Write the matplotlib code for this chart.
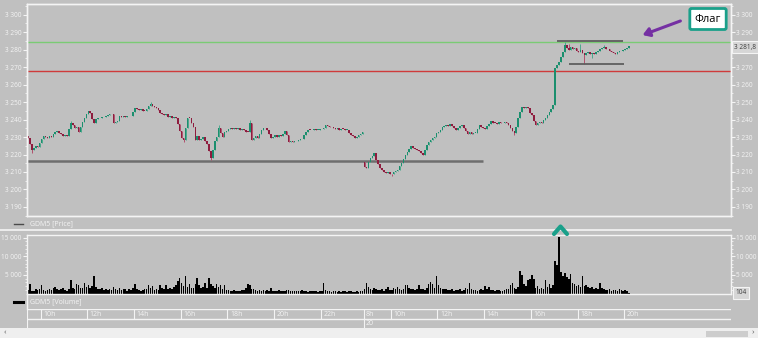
import numpy as np
import matplotlib.pyplot as plt
from matplotlib.lines import Line2D
from matplotlib.patches import Rectangle, FancyArrowPatch

plt.rcParams['font.family'] = ['Open Sans', 'DejaVu Sans']

# 5-minute bars, day 1 starts 9:25, day 2 starts 8:50
day1_close = [
    3229.5, 3226.0, 3222.5, 3223.5, 3224.8, 3224.4, 3226.5, 3228.9, 3230.3, 3230.0,
    3229.6, 3230.4, 3230.2, 3231.5, 3233.0, 3233.4, 3232.1, 3232.0, 3230.8, 3231.2,
    3230.3, 3234.5, 3237.9, 3236.6, 3235.2, 3235.8, 3233.0, 3235.5, 3238.4, 3241.0,
    3243.2, 3244.6, 3243.5, 3240.2, 3238.0, 3240.1, 3240.6, 3240.9, 3241.6, 3241.3,
    3242.0, 3242.4, 3242.9, 3243.3, 3238.0, 3238.6, 3239.4, 3241.8, 3241.2, 3242.0,
    3241.6, 3242.3, 3241.8, 3242.0, 3244.4, 3246.5, 3245.8, 3245.3, 3245.9, 3245.1,
    3245.0, 3246.2, 3247.5, 3248.8, 3247.9, 3247.0, 3246.4, 3245.7, 3244.0, 3243.1,
    3242.5, 3243.3, 3241.4, 3241.9, 3240.8, 3241.5, 3241.0, 3237.5, 3233.2, 3229.4,
    3228.5, 3235.0, 3241.0, 3240.8, 3238.0, 3235.8, 3228.5, 3230.6, 3228.2, 3229.0,
    3230.0, 3227.5, 3226.0, 3222.0, 3218.0, 3222.5, 3227.8, 3230.0, 3235.0, 3232.4,
    3230.0, 3233.0, 3233.6, 3234.8, 3235.0, 3234.4, 3235.2, 3234.6, 3235.0, 3233.9,
    3234.5, 3234.0, 3233.0, 3232.8, 3238.0, 3228.5, 3229.6, 3230.4, 3229.5, 3231.8,
    3233.9, 3235.0, 3235.0, 3234.1, 3232.0, 3229.5, 3230.2, 3231.0, 3229.8, 3230.9,
    3230.5, 3231.8, 3233.5, 3231.0, 3227.4, 3228.0, 3226.9, 3227.5, 3228.0, 3228.3,
    3228.6, 3229.0, 3231.0, 3232.6, 3234.2, 3234.0, 3233.8, 3234.3, 3234.0, 3234.1,
    3234.4, 3234.3, 3235.0, 3237.0, 3236.1, 3235.5, 3235.9, 3235.0, 3234.6, 3235.0,
    3234.2, 3234.8, 3234.5, 3234.0, 3234.0, 3232.5, 3231.2, 3230.8, 3229.5, 3230.0,
    3231.4, 3231.6, 3232.6]
day2_close = [
    3212.8, 3212.2, 3215.6, 3218.0, 3219.4, 3220.8, 3217.0,
    3214.5, 3212.0, 3211.4, 3210.2, 3209.4, 3209.8, 3209.1, 3208.6, 3209.9, 3210.4,
    3211.0, 3213.2, 3215.0, 3217.5, 3219.8, 3221.7, 3223.0, 3224.6, 3223.8, 3223.1,
    3222.5, 3222.0, 3220.6, 3219.8, 3222.6, 3225.5, 3227.4, 3228.2, 3229.4, 3230.0,
    3232.3, 3233.0, 3234.1, 3235.6, 3236.2, 3237.0, 3236.4, 3237.7, 3236.5, 3235.1,
    3234.0, 3235.4, 3236.2, 3237.0, 3235.3, 3233.7, 3232.0, 3232.8, 3231.6, 3232.2,
    3232.5, 3234.8, 3236.6, 3235.9, 3235.0, 3234.5, 3236.1, 3237.4, 3238.9, 3238.3,
    3238.0, 3237.5, 3238.4, 3237.8, 3237.9, 3238.6, 3238.0, 3236.9, 3235.1, 3233.4,
    3232.5, 3236.0, 3240.8, 3244.5, 3247.4, 3246.8, 3247.0, 3246.5, 3244.0, 3242.7,
    3239.2, 3237.0, 3237.8, 3238.4, 3238.0, 3239.5, 3241.0, 3242.7, 3244.4, 3245.8,
    3248.4, 3269.4, 3271.0, 3273.1, 3276.0, 3278.9, 3282.7, 3280.8, 3279.7, 3281.4,
    3280.2, 3281.0, 3279.0, 3278.6, 3280.0, 3278.3, 3277.0, 3277.9, 3278.5, 3277.6,
    3278.2, 3277.5, 3278.6, 3279.0, 3280.4, 3281.0, 3281.3, 3280.2, 3280.5, 3279.3,
    3278.4, 3278.0, 3277.6, 3278.5, 3279.0, 3279.2, 3279.8, 3280.5, 3281.0, 3281.8]
day1_open = 3230.4
day2_open = 3215.8
wick_hi = {22: 3239.2, 63: 3250.0, 98: 3236.6, 114: 3239.6, 276: 3284.6, 278: 3283.4, 284: 3283.0, 296: 3282.6}
wick_lo = {2: 3221.0, 80: 3227.4, 94: 3216.6, 187: 3207.8, 250: 3231.2, 286: 3271.8, 290: 3275.2}

day1_vol = [
    900, 2470, 800, 700, 1100, 900, 1300, 2200, 1000, 800,
    900, 1200, 1000, 1500, 1770, 1300, 900, 1100, 1600, 1000,
    800, 1200, 3620, 1400, 1100, 2470, 2200, 1600, 1400, 2740,
    1800, 2400, 1500, 1900, 4770, 1700, 1300, 1100, 1400, 1000,
    1200, 900, 1300, 1000, 1850, 1200, 1000, 1400, 900, 1100,
    1300, 800, 1200, 1000, 1500, 2650, 1200, 1000, 800, 900,
    1100, 1300, 2300, 1500, 2100, 1000, 1300, 900, 2300, 1400,
    1200, 2200, 1100, 1600, 1300, 1800, 2400, 3360, 4150, 2900,
    2000, 4590, 1800, 2500, 1400, 1600, 2600, 4240, 2400, 1500,
    1700, 2900, 1600, 4060, 2500, 1900, 1400, 2650, 1800, 2300,
    1300, 2200, 1000, 900, 800, 700, 900, 600, 800, 700,
    900, 1000, 1600, 2650, 2400, 1300, 1100, 900, 800, 1000,
    700, 900, 800, 1000, 700, 1400, 800, 600, 700, 900,
    600, 800, 700, 900, 1000, 700, 600, 800, 700, 600,
    700, 900, 600, 800, 500, 700, 600, 800, 700, 500,
    600, 700, 2900, 900, 700, 600, 500, 700, 600, 500,
    600, 500, 700, 600, 500, 600, 700, 500, 400, 600,
    500, 700, 600]
day2_vol = [
    1200, 2900, 1800, 1300, 1000, 1400, 1100,
    900, 1000, 1200, 800, 1100, 1800, 1000, 900, 1400, 1200,
    1800, 1100, 1000, 1300, 2300, 2400, 1500, 1200, 1100, 1000,
    1300, 2200, 1100, 1200, 1000, 1400, 2500, 3180, 2600, 1500,
    4680, 2200, 1400, 1200, 1100, 1300, 900, 1000, 1200, 800,
    1000, 900, 1100, 800, 1000, 1600, 1200, 2700, 1100, 900,
    1000, 800, 900, 1100, 1000, 1900, 1200, 1800, 900, 1000,
    800, 900, 1000, 700, 800, 900, 1100, 1300, 2300, 2900,
    1400, 1200, 1800, 6000, 4860, 2500, 2000, 3700, 3800, 5030,
    3900, 1500, 2000, 1100, 1600, 1300, 3530, 1800, 2500, 1400,
    2300, 8830, 7770, 15270, 5740, 4700, 5560, 4300, 3800, 5120,
    2900, 2500, 2000, 2300, 1800, 4770, 2000, 2200, 1800, 1500,
    1700, 1300, 1600, 1200, 2900, 1500, 1100, 1000, 900, 1200,
    800, 1000, 900, 700, 1100, 900, 800, 1000, 700, 104]

green_level = 3284.3
red_level = 3268.0
support_level = 3216.4
flag_top = 3285.0
flag_bottom = 3271.7
price_ticks = [3190, 3200, 3210, 3220, 3230, 3240, 3250, 3260, 3270, 3280, 3290, 3300]
hidden_right = 3280  # covered by the last-price box
vol_ticks = [5000, 10000, 15000]
last_price = '3 281,8'
last_vol = '104'
day1_hours = [10, 12, 14, 16, 18, 20, 22]
day2_hours = [10, 12, 14, 16, 18, 20]
day2_date = '20'

BG = '#c0c0c0'
FG = '#f4f4f4'
UP = '#1b8f6e'
DN = '#8e1c3e'

W, H = 758, 338
def fx(x): return x / W
def fy(y): return 1 - y / H

n1 = len(day1_close)
closes = np.array(day1_close + day2_close)
opens = np.r_[day1_open, closes[:-1]]
opens[n1] = day2_open
idx = np.arange(len(closes))
highs = np.maximum(opens, closes)
lows = np.minimum(opens, closes)
for k, v in wick_hi.items():
    highs[k] = v
for k, v in wick_lo.items():
    lows[k] = v
vol = np.array(day1_vol + day2_vol)

xlim = (-0.51, 361.4)
plim = (3185.2, 3305.9)
fmt = lambda v, p: f'{v:,.0f}'.replace(',', ' ')

def style_y(a, left, right):
    for s in a.spines.values():
        s.set_color(FG)
        s.set_linewidth(1)
    a.tick_params(axis='y', which='both', left=left, right=right, labelleft=left,
                  labelright=right, colors=FG, labelsize=4.7, pad=0.8)
    a.tick_params(axis='y', which='major', length=3, width=0.8)
    a.tick_params(axis='y', which='minor', length=1.5, width=0.6)
    a.yaxis.set_major_formatter(fmt)
    a.set_xticks([])

fig = plt.figure(figsize=(7.58, 3.38), dpi=100, facecolor=BG)

# price panel
ax = fig.add_axes([fx(27), fy(215.7), 704 / W, 211.4 / H], facecolor=BG)
up = closes >= opens
body_col = np.where(up, UP, DN)
wick_col = np.where(up, '#4aa88c', '#b0506c')
ax.vlines(idx, lows, highs, colors=wick_col, lw=0.7, zorder=2)
ax.bar(idx, np.maximum(np.abs(closes - opens), 0.4), bottom=np.minimum(opens, closes),
       width=0.8, color=body_col, lw=0, zorder=3)
ax.axhline(green_level, color='#7acb74', lw=1, zorder=1)
ax.axhline(red_level, color='#cf3b3b', lw=1, zorder=1)
ax.hlines(support_level, -0.5, 234, color='#6e6e6e', lw=1.8, zorder=1)
ax.hlines(flag_top, 272, 306, color='#5e5e5e', lw=1.3, zorder=4)
ax.hlines(flag_bottom, 278, 306.5, color='#5e5e5e', lw=1.3, zorder=4)
ax.set_xlim(xlim)
ax.set_ylim(plim)
ax.set_yticks(price_ticks)
ax.set_yticks(np.arange(3185, 3306, 5), minor=True)
style_y(ax, True, False)

axr = ax.twinx()
axr.set_ylim(plim)
axr.set_yticks([t for t in price_ticks if t != hidden_right])
axr.set_yticks(np.arange(3185, 3306, 5), minor=True)
style_y(axr, False, True)

# volume panel
axv = fig.add_axes([fx(27), fy(293.5), 704 / W, 58.5 / H], facecolor=BG)
axv.bar(idx, vol, width=0.8, color='black', lw=0)
axv.set_xlim(xlim)
axv.set_ylim(0, 15700)
axv.set_yticks(vol_ticks)
axv.set_yticks(np.arange(1000, 15700, 1000), minor=True)
style_y(axv, True, True)

# time axis
axt = fig.add_axes([fx(27), fy(328), 704 / W, 18.7 / H], facecolor=BG)
axt.set_xlim(xlim)
axt.set_ylim(0, 1)
axt.axis('off')
row = (328 - 319.3) / 18.7
axt.axhline(1, color=FG, lw=1)
axt.axhline(row, color=FG, lw=1)
axt.axvline(xlim[0], color=FG, lw=1.5)
ticks = [(h * 60 - 565) / 5 - 0.5 for h in day1_hours] + \
        [n1 + (h * 60 - 530) / 5 - 0.5 for h in day2_hours]
labels = [f'{h}h' for h in day1_hours] + [f'{h}h' for h in day2_hours]
for t, lab in zip(ticks, labels):
    axt.vlines(t, row, 1, color=FG, lw=0.8)
    axt.text(t + 1.3, (1 + row) / 2, lab, color=FG, fontsize=5, va='center', ha='left')
day_sep = n1 - 0.5
axt.vlines(day_sep, 0, 1, color=FG, lw=0.8)
axt.text(day_sep + 1.3, (1 + row) / 2, '8h', color=FG, fontsize=5, va='center', ha='left')
axt.text(day_sep + 1.3, row / 2, day2_date, color=FG, fontsize=5, va='center', ha='left')

# frame decorations in figure pixels
def fline(xs, ys, **kw):
    fig.add_artist(Line2D([fx(x) for x in xs], [fy(y) for y in ys], **kw))

fline([0, 731], [230, 230], color=FG, lw=1.2)
fline([27, 27], [293.5, 309.3], color=FG, lw=1)
fline([14, 23], [224, 224], color='#4a4a4a', lw=1)
fline([14, 23], [302, 302], color='black', lw=2.2)
fig.text(fx(30), fy(224), 'GDM5 [Price]', color=FG, fontsize=5, va='center')
fig.text(fx(30), fy(302), 'GDM5 [Volume]', color=FG, fontsize=5, va='center')

# last-value boxes on the right scale
fig.text(fx(745), fy(47), last_price, color='#3c3c3c', fontsize=4.7, ha='center', va='center',
         bbox=dict(boxstyle='square,pad=0.35', fc='#d6d6d6', ec=FG, lw=0.8))
fig.text(fx(741), fy(293), last_vol, color='#3c3c3c', fontsize=4.7, ha='center', va='center',
         bbox=dict(boxstyle='square,pad=0.35', fc='#d6d6d6', ec=FG, lw=0.8))

# caret above the volume spike
fline([554, 560.5, 567], [234, 226.5, 234], color='#1aa08a', lw=3, solid_capstyle='round',
      solid_joinstyle='round')

# flag callout
fig.text(fx(708), fy(19), 'Флаг', color='black', fontsize=8, ha='center', va='center',
         bbox=dict(boxstyle='round,pad=0.45,rounding_size=0.15', fc='white', ec='#1aa08a', lw=2))
fig.add_artist(FancyArrowPatch((fx(683), fy(20)), (fx(640), fy(36)), transform=fig.transFigure,
                               arrowstyle='-|>,head_length=4,head_width=2.6', color='#7530a3', lw=2.2))

# bottom scroll strip
fig.add_artist(Rectangle((0, 0), 1, fy(328), transform=fig.transFigure, fc='#efefef', ec='none'))
fig.add_artist(Rectangle((fx(706), fy(336.8)), (748 - 706) / W, 6 / H, transform=fig.transFigure,
                         fc='#cdcdcd', ec='none'))
fig.text(fx(5), fy(333), '‹', color='#606060', fontsize=6, ha='center', va='center')
fig.text(fx(753), fy(333), '›', color='#606060', fontsize=6, ha='center', va='center')

fig.savefig('out.png', dpi=100, facecolor=BG)
